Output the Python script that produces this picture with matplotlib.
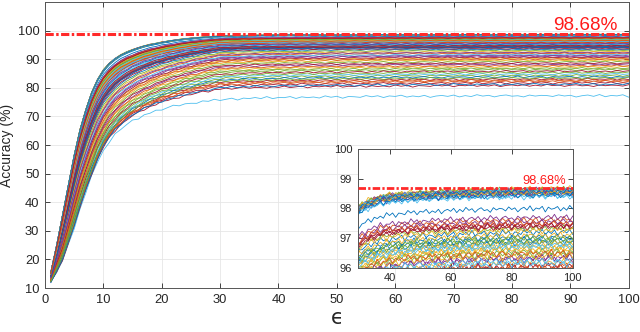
import numpy as np
import matplotlib
matplotlib.use('Agg')
import matplotlib.pyplot as plt

best_acc = 98.68
epsilon = np.arange(1, 101)

# best (fastest) and worst (slowest) run, eps = 1..100
top_curve = [15.5, 25.0, 35.5, 46.0, 56.5, 65.5, 72.5, 78.5, 83.0, 86.3,
             88.6, 90.3, 91.6, 92.6, 93.4, 94.1, 94.7, 95.2, 95.6, 96.0,
             96.35, 96.65, 96.95, 97.2, 97.4, 97.58, 97.74, 97.88, 98.0, 98.1,
             98.17, 98.23, 98.28, 98.32, 98.36, 98.39, 98.42, 98.44, 98.46, 98.48,
             98.49, 98.50, 98.51, 98.52, 98.53, 98.54, 98.55, 98.55, 98.56, 98.56,
             98.57, 98.57, 98.58, 98.58, 98.59, 98.59, 98.60, 98.60, 98.60, 98.61,
             98.61, 98.61, 98.62, 98.62, 98.62, 98.63, 98.63, 98.63, 98.63, 98.64,
             98.64, 98.64, 98.64, 98.65, 98.65, 98.65, 98.65, 98.65, 98.66, 98.66,
             98.66, 98.66, 98.66, 98.66, 98.67, 98.67, 98.67, 98.67, 98.67, 98.67,
             98.67, 98.68, 98.68, 98.68, 98.68, 98.68, 98.68, 98.68, 98.68, 98.68]
low_curve = [12.0, 15.5, 19.5, 25.0, 31.0, 37.5, 43.5, 49.0, 54.0, 58.0,
             61.2, 63.7, 65.6, 67.1, 68.4, 69.5, 70.4, 71.2, 71.9, 72.5,
             73.0, 73.5, 73.9, 74.3, 74.6, 74.9, 75.2, 75.4, 75.6, 75.8,
             75.95, 76.05, 76.15, 76.25, 76.30, 76.35, 76.40, 76.45, 76.50, 76.55,
             76.60, 76.60, 76.65, 76.65, 76.70, 76.70, 76.75, 76.75, 76.80, 76.80,
             76.82, 76.84, 76.86, 76.88, 76.90, 76.92, 76.94, 76.96, 76.98, 77.00,
             77.01, 77.02, 77.03, 77.04, 77.05, 77.06, 77.07, 77.08, 77.09, 77.10,
             77.11, 77.12, 77.13, 77.14, 77.15, 77.16, 77.17, 77.18, 77.19, 77.20,
             77.20, 77.20, 77.20, 77.20, 77.20, 77.20, 77.20, 77.20, 77.20, 77.20,
             77.20, 77.20, 77.20, 77.20, 77.20, 77.20, 77.20, 77.20, 77.20, 77.20]

# final accuracy of every run (plot order)
final_acc = [96.86, 98.62, 90.30, 94.50, 84.30, 77.20, 97.46, 98.55, 92.00, 96.20,
             88.20, 98.66, 95.10, 81.70, 97.05, 98.50, 89.60, 94.10, 96.45, 98.60,
             83.00, 93.40, 97.62, 96.65, 98.47, 86.30, 95.70, 90.60, 98.00, 96.10,
             98.68, 91.30, 97.33, 84.80, 94.30, 96.95, 98.57, 87.30, 96.35, 93.00,
             98.43, 80.80, 97.20, 95.90, 96.74, 98.64, 89.10, 94.90, 96.05, 98.52,
             82.60, 92.60, 97.70, 96.55, 98.40, 85.80, 95.30, 90.00, 97.10, 96.30,
             98.63, 91.60, 97.38, 83.80, 94.60, 96.82, 98.59, 86.80, 96.25, 93.70,
             98.45, 82.20, 97.27, 95.50, 96.90, 98.61, 88.60, 94.40, 96.00, 98.54,
             97.55, 83.40, 96.78, 94.80, 98.58, 87.70, 96.40, 92.30, 97.00, 96.70,
             94.20, 81.20, 97.50, 96.60, 91.00, 85.30, 96.15, 97.42, 94.00, 96.50]

# epoch-to-epoch jitter shape (hand typed), shifted for each run
wiggle = [0.12, -0.35, 0.48, -0.10, 0.27, -0.62, 0.05, 0.41, -0.28, 0.66,
          -0.47, 0.18, -0.05, 0.55, -0.71, 0.30, -0.16, 0.02, 0.44, -0.53,
          0.21, -0.38, 0.69, -0.08, 0.14, -0.59, 0.36, -0.24, 0.07, 0.52,
          -0.66, 0.25, -0.12, 0.40, -0.45, 0.09, 0.61, -0.31, 0.16, -0.02,
          -0.50, 0.33, -0.19, 0.58, -0.36, 0.04, 0.47, -0.64, 0.22, -0.11,
          0.38, -0.27, 0.71, -0.42, 0.10, -0.06, 0.50, -0.57, 0.29, -0.21,
          0.13, -0.48, 0.63, -0.15, 0.35, -0.69, 0.19, 0.01, -0.33, 0.56,
          -0.09, 0.42, -0.54, 0.26, -0.03, 0.60, -0.40, 0.17, -0.25, 0.46,
          -0.61, 0.08, 0.37, -0.14, 0.53, -0.44, 0.23, -0.30, 0.67, -0.07,
          0.31, -0.52, 0.15, 0.45, -0.20, 0.03, -0.58, 0.39, -0.13, 0.24]

matlab_colors = ['#0072BD', '#D95319', '#EDB120', '#7E2F8E', '#77AC30', '#4DBEEE', '#A2142F']

plt.rcParams['font.family'] = ['Liberation Sans', 'DejaVu Sans']
txtcol = '#262626'


def build_curves():
	top = np.array(top_curve)
	low = np.array(low_curve)
	#weaker runs lag behind during the rise, then settle at their final value
	settle = np.clip((epsilon - 8) / 22., 0, 1)
	curves = []
	for i, fa in enumerate(final_acc):
		w = (fa - low[-1]) / (top[-1] - low[-1])
		w_eff = w**2 * (1 - settle) + w * settle
		amp = 0.1 + 0.025 * (100. - fa)
		curves.append(low + w_eff * (top - low) + amp * np.roll(wiggle, 17 * i))
	return curves


def style_axes(ax, size):
	ax.tick_params(direction='in', top=True, right=True, length=3.5, width=0.6,
		labelsize=size, colors=txtcol, pad=4)
	for sp in ax.spines.values():
		sp.set_color('#555555')
		sp.set_linewidth(0.7)


def make_plot():
	fig = plt.figure(figsize=(6.4, 3.32), dpi=100)
	ax = fig.add_axes([0.0703, 0.1325, 0.912, 0.8615])
	curves = build_curves()

	#main axes
	for i, c in enumerate(curves):
		ax.plot(epsilon, c, color=matlab_colors[i % 7], linewidth=0.6)
	ax.axhline(best_acc, color='#ff2a2a', linewidth=2.2, linestyle=(0, (2.7, 0.8, 0.8, 0.8)), zorder=5)
	ax.text(87, 100.1, '98.68%', color='#ff1a1a', fontsize=13.6, ha='left', va='baseline')
	ax.set_xlim(0, 100)
	ax.set_ylim(10, 110)
	ax.set_xticks(np.arange(0, 101, 10))
	ax.set_yticks(np.arange(10, 101, 10))
	ax.grid(True, color='#e6e6e6', linewidth=0.6)
	ax.set_axisbelow(True)
	style_axes(ax, 9.3)
	ax.set_ylabel('Accuracy (%)', fontsize=10, color=txtcol, labelpad=3)
	ax.set_xlabel('\u03f5', fontsize=15, family=['DejaVu Sans'], color=txtcol, labelpad=2)

	#zoomed inset
	axin = fig.add_axes([0.559, 0.193, 0.336, 0.358])
	for i, c in enumerate(curves):
		axin.plot(epsilon, c, color=matlab_colors[i % 7], linewidth=0.6)
	axin.axhline(best_acc, color='#ff2a2a', linewidth=2.0, linestyle=(0, (2.7, 0.8, 0.8, 0.8)), zorder=5)
	axin.text(83.5, 98.84, '98.68%', color='#ff1a1a', fontsize=9.3, ha='left', va='baseline')
	axin.set_xlim(29.6, 100)
	axin.set_ylim(96, 100)
	axin.set_xticks([40, 60, 80, 100])
	axin.set_yticks([96, 97, 98, 99, 100])
	style_axes(axin, 8)

	plt.savefig('out.png', dpi=100)


if __name__ == "__main__":
	make_plot()
